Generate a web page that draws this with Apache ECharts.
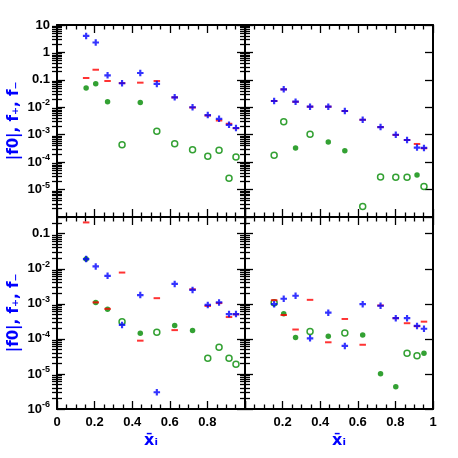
<!DOCTYPE html>
<html>
<head>
<meta charset="utf-8">
<script src="https://cdn.jsdelivr.net/npm/echarts@6/dist/echarts.min.js"></script>
<style>html,body{margin:0;padding:0;background:#fff}#c{width:458px;height:458px}</style>
</head>
<body>
<div id="c"></div>
<script>
// ---- data ----
var xbar = [0.155, 0.206, 0.269, 0.346, 0.443, 0.531, 0.626, 0.721, 0.802, 0.862, 0.915, 0.952];

// top-left
var tlPlus  = [4.0, 2.3, 0.146, 0.075, 0.178, 0.071, 0.023, 0.0100, 0.0052, 0.0038, 0.0023, 0.00176];
var tlMinus = [0.117, 0.234, 0.091, 0.076, 0.079, 0.091, 0.023, 0.0098, 0.0050, 0.0033, 0.0025, 0.00172];
var tlZeroPos = [0.050, 0.072, 0.016, null, 0.015, null, null, null, null, null, null, null];
var tlZeroNeg = [null, null, null, 4.3e-4, null, 1.33e-3, 4.7e-4, 2.85e-4, 1.63e-4, 2.7e-4, 2.6e-5, 1.55e-4];

// top-right
var trPlus  = [0.017, 0.045, 0.016, 0.0105, 0.0105, 0.0073, 0.0035, 0.0019, 0.0010, 6.4e-4, 3.4e-4, 3.3e-4];
var trMinus = [0.017, 0.045, 0.0158, 0.0105, 0.0105, 0.0073, 0.0035, 0.0019, 0.00098, 6.4e-4, 4.6e-4, 3.2e-4];
var trZeroPos = [null, null, 3.3e-4, null, 5.4e-4, 2.6e-4, null, null, null, null, 3.4e-5, null];
var trZeroNeg = [1.8e-4, 3.0e-3, null, 1.03e-3, null, null, 2.4e-6, 2.9e-5, 2.8e-5, 2.8e-5, null, 1.3e-5];

// bottom-left
var blPlus  = [0.0189, 0.0117, 0.0063, 2.5e-4, 1.78e-3, 3.0e-6, 3.7e-3, 2.5e-3, 9.3e-4, 1.1e-3, 5.1e-4, 5.1e-4];
var blMinus = [0.21, 1.1e-3, 7.2e-4, 7.8e-3, 8.9e-5, 1.45e-3, 1.78e-4, 2.6e-3, 8.7e-4, 1.05e-3, 4.2e-4, 5.0e-4];
var blZeroPos = [0.0189, 1.1e-3, 7.0e-4, null, 1.45e-4, null, 2.4e-4, 1.74e-4, null, null, null, null];
var blZeroNeg = [null, null, null, 3.1e-4, null, 1.55e-4, null, null, 2.8e-5, 5.8e-5, 2.8e-5, 1.9e-5];

// bottom-right
var brPlus  = [9.8e-4, 1.4e-3, 1.7e-3, 1.04e-4, 5.6e-4, 6.3e-5, 9.8e-4, 8.8e-4, 3.9e-4, 3.9e-4, 2.35e-4, 1.95e-4];
var brMinus = [1.27e-3, 4.8e-4, 1.85e-4, 1.3e-3, 8.0e-5, 3.7e-4, 6.8e-5, 9.0e-4, 3.9e-4, 2.8e-4, 2.3e-4, 3.1e-4];
var brZeroPos = [null, 5.2e-4, 1.1e-4, null, 1.18e-4, null, 1.3e-4, 1.02e-5, 4.3e-6, null, null, 3.9e-5];
var brZeroNeg = [1.07e-3, null, null, 1.63e-4, null, 1.48e-4, null, null, null, 3.9e-5, 3.3e-5, null];

// axis ranges and tick labels
var topRange = [1e-6, 10];
var botRange = [1e-6, 0.3];
var topYLabels = [10, 1, 0.1, 1e-2, 1e-3, 1e-4, 1e-5];
var botYLabels = [0.1, 1e-2, 1e-3, 1e-4, 1e-5, 1e-6];
var blXLabels = [0, 0.2, 0.4, 0.6, 0.8];
var brXLabels = [0.2, 0.4, 0.6, 0.8, 1];
var yName = '|f0|, f\u208A, f\u208B';
var xName = 'x\u0304\u1D62';

// ---- build ----
var FONT = 'Liberation Sans, DejaVu Sans, sans-serif';
var BLUE = '#0000ff', RED = '#ff0000', GREEN = '#008a00';

function decadesIn(r) {
  var out = [];
  for (var e = -6; e <= 1; e++) { var v = Math.pow(10, e); if (v >= r[0] * 0.999 && v <= r[1] * 1.001) out.push(v); }
  return out;
}
function minorsIn(r) {
  var out = [];
  for (var e = -6; e <= 1; e++) for (var m = 2; m <= 9; m++) { var v = m * Math.pow(10, e); if (v > r[0] && v < r[1]) out.push(v); }
  return out;
}
function yLabelFmt(v) {
  var e = Math.round(Math.log10(v));
  if (e === 1) return '10';
  if (e === 0) return '1';
  if (e === -1) return '0.1';
  return '10{s|' + e + '}';
}
function xLabelFmt(v) {
  if (Math.abs(v) < 1e-9) return '0';
  if (Math.abs(v - 1) < 1e-9) return '1';
  return v.toFixed(1);
}

var grids = [
  {left: 57, top: 25, width: 188, height: 192},
  {left: 245, top: 25, width: 188, height: 192},
  {left: 57, top: 217, width: 188, height: 192},
  {left: 245, top: 217, width: 188, height: 192}
];
var panels = [
  {range: topRange, yl: null, xl: null, left: true, plus: tlPlus, minus: tlMinus, pos: tlZeroPos, neg: tlZeroNeg},
  {range: topRange, yl: null, xl: null, left: false, plus: trPlus, minus: trMinus, pos: trZeroPos, neg: trZeroNeg},
  {range: botRange, yl: null, xl: blXLabels, left: true, plus: blPlus, minus: blMinus, pos: blZeroPos, neg: blZeroNeg},
  {range: botRange, yl: null, xl: brXLabels, left: false, plus: brPlus, minus: brMinus, pos: brZeroPos, neg: brZeroNeg}
];
panels[0].yl = topYLabels; panels[2].yl = botYLabels;

var xAxes = [], yAxes = [], series = [];
var lineSt = {color: '#000', width: 2};
var tickSt = {color: '#000', width: 1.3};

panels.forEach(function (p, g) {
  ['bottom', 'top'].forEach(function (pos) {
    var showLab = pos === 'bottom' && !!p.xl;
    var ax = {
      type: 'value', gridIndex: g, position: pos, min: 0, max: 1, interval: 0.2,
      axisLine: {show: true, onZero: false, lineStyle: lineSt},
      axisTick: {show: true, inside: true, length: 8, lineStyle: tickSt},
      minorTick: {show: true, splitNumber: 4, length: 4.5, lineStyle: tickSt},
      splitLine: {show: false},
      axisLabel: {show: showLab, margin: 7, color: '#000', fontSize: 13, fontWeight: 'bold', fontFamily: FONT, formatter: xLabelFmt}
    };
    if (showLab) {
      ax.axisLabel.customValues = p.xl;
      ax.name = xName; ax.nameLocation = 'middle'; ax.nameGap = 24;
      ax.nameTextStyle = {color: BLUE, fontSize: 16, fontWeight: 'bold', fontFamily: 'DejaVu Sans, sans-serif'};
    }
    xAxes.push(ax);
  });
  var base = yAxes.length;
  ['left', 'right'].forEach(function (pos) {
    var showLab = pos === 'left' && !!p.yl;
    var major = {
      type: 'log', logBase: 10, gridIndex: g, position: pos, min: p.range[0], max: p.range[1],
      axisLine: {show: true, onZero: false, lineStyle: lineSt},
      axisTick: {show: true, inside: true, length: 8, lineStyle: tickSt, customValues: decadesIn(p.range)},
      minorTick: {show: false},
      splitLine: {show: false},
      axisLabel: {show: showLab, margin: 7, color: '#000', fontSize: 13, fontWeight: 'bold', fontFamily: FONT,
        formatter: yLabelFmt,
        rich: {s: {fontSize: 9, fontWeight: 'bold', fontFamily: FONT, color: '#000', padding: [0, 0, 9, 0]}}}
    };
    if (showLab) {
      major.axisLabel.customValues = p.yl;
      major.name = yName; major.nameLocation = 'middle'; major.nameGap = 35;
      major.nameTextStyle = {color: BLUE, fontSize: 15, fontWeight: 'bold', fontFamily: 'DejaVu Sans, sans-serif'};
    }
    yAxes.push(major);
    yAxes.push({
      type: 'log', logBase: 10, gridIndex: g, position: pos, min: p.range[0], max: p.range[1],
      axisLine: {show: false},
      axisTick: {show: true, inside: true, length: 5, lineStyle: tickSt, customValues: minorsIn(p.range)},
      minorTick: {show: false},
      splitLine: {show: false},
      axisLabel: {show: false}
    });
  });
  function pts(arr) {
    var out = [];
    arr.forEach(function (v, i) { if (v != null) out.push([xbar[i], v]); });
    return out;
  }
  var common = {type: 'scatter', xAxisIndex: g * 2, yAxisIndex: base, silent: true, animation: false};
  series.push(Object.assign({}, common, {data: pts(p.neg), symbol: 'circle', symbolSize: 6, z: 2,
    itemStyle: {color: '#fff', borderColor: GREEN, borderWidth: 1.5}}));
  series.push(Object.assign({}, common, {data: pts(p.pos), symbol: 'circle', symbolSize: 5.5, z: 3,
    itemStyle: {color: GREEN}}));
  series.push(Object.assign({}, common, {data: pts(p.minus), symbol: 'rect', symbolSize: [6.5, 2], z: 4,
    itemStyle: {color: RED}}));
  series.push(Object.assign({}, common, {data: pts(p.plus), symbol: 'path://M2,0H4V2H6V4H4V6H2V4H0V2H2Z', symbolSize: 6.5, z: 5,
    itemStyle: {color: BLUE}}));
});

var chart = echarts.init(document.getElementById('c'), null, {renderer: 'canvas'});
chart.setOption({
  animation: false,
  backgroundColor: '#fff',
  grid: grids,
  xAxis: xAxes,
  yAxis: yAxes,
  series: series
});
</script>
</body>
</html>
